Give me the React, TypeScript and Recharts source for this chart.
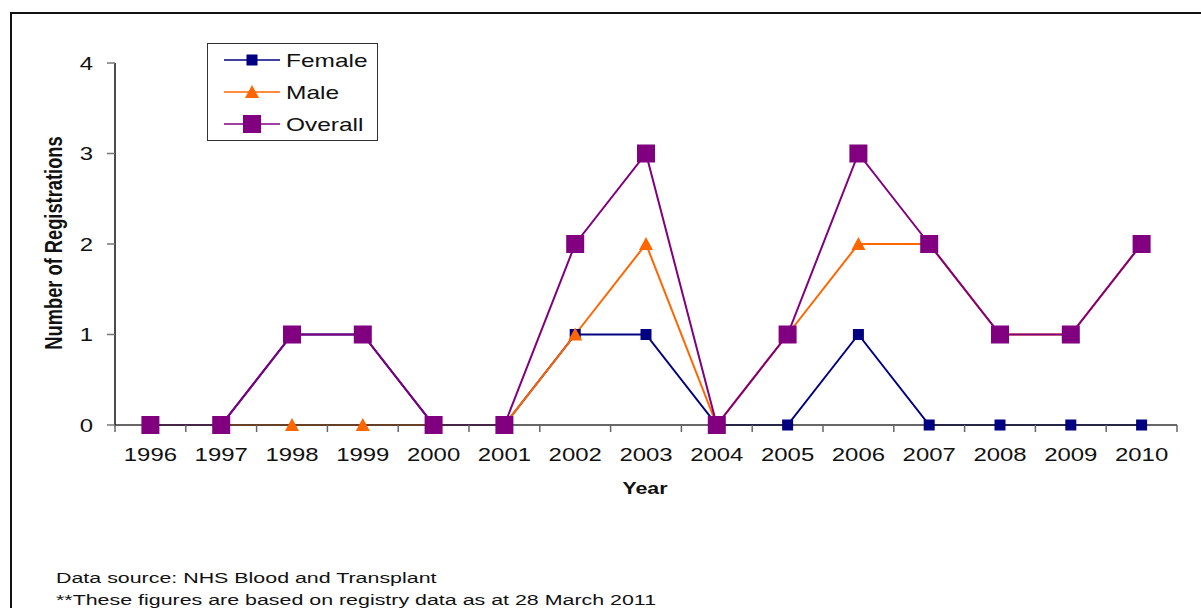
import React from "react";
import { LineChart, Line, XAxis, YAxis, Legend } from "recharts";

const years = [1996, 1997, 1998, 1999, 2000, 2001, 2002, 2003, 2004, 2005, 2006, 2007, 2008, 2009, 2010];
const female = [0, 0, 1, 1, 0, 0, 1, 1, 0, 0, 1, 0, 0, 0, 0];
const male = [0, 0, 0, 0, 0, 0, 1, 2, 0, 1, 2, 2, 1, 1, 2];
const overall = [0, 0, 1, 1, 0, 0, 2, 3, 0, 1, 3, 2, 1, 1, 2];
const yTicks = [0, 1, 2, 3, 4];

const data = years.map((y, i) => ({ year: y, Female: female[i], Male: male[i], Overall: overall[i] }));
const xTicks: number[] = [];
for (let i = 0; i <= years.length; i++) {
  xTicks.push(years[0] - 0.5 + i);
  if (i < years.length) xTicks.push(years[i]);
}

const FONT = '"Liberation Sans", Arial, sans-serif';
const SX = 1.33;
const C_F = "#000080";
const C_M = "#FF6600";
const C_O = "#800080";

const Square = ({ cx, cy, size, color }: any) => (
  <rect x={cx - size / 2} y={cy - size / 2} width={size} height={size} fill={color} />
);
const Tri = ({ cx, cy, w, h, color }: any) => (
  <polygon points={`${cx},${cy - h / 2 - 1} ${cx + w / 2},${cy + h / 2} ${cx - w / 2},${cy + h / 2}`} fill={color} />
);

const markerFor = (key: string, cx: number, cy: number) => {
  if (key === "Female") return <Square cx={cx} cy={cy} size={11} color={C_F} />;
  if (key === "Male") return <Tri cx={cx} cy={cy} w={14} h={12} color={C_M} />;
  return <Square cx={cx} cy={cy} size={18} color={C_O} />;
};

const XTick = (props: any) => {
  const { x, y, payload } = props;
  const v = payload.value;
  if (Math.abs(v - Math.round(v)) > 0.01) {
    return <line x1={x} y1={y} x2={x} y2={y + 7} stroke="#666" strokeWidth={1.5} />;
  }
  return (
    <text transform={`translate(${x},${y + 36}) scale(${SX},1)`} textAnchor="middle" fontFamily={FONT} fontSize={18} fill="#111">
      {v}
    </text>
  );
};

const YTick = (props: any) => {
  const { x, y, payload } = props;
  return (
    <text transform={`translate(${x},${y + 6.5}) scale(${SX},1)`} textAnchor="end" fontFamily={FONT} fontSize={18} fill="#111">
      {payload.value}
    </text>
  );
};

const LegendContent = (props: any) => {
  const payload = props.payload || [];
  return (
    <svg width={169} height={96} style={{ display: "block" }}>
      {payload.map((p: any, i: number) => {
        const cy = 16 + i * 32;
        return (
          <g key={p.value}>
            <line x1={16} y1={cy} x2={72} y2={cy} stroke={p.color} strokeWidth={1.5} />
            {markerFor(p.dataKey, 44, cy)}
            <text transform={`translate(78,${cy + 6.5}) scale(1.36,1)`} fontFamily={FONT} fontSize={18} fill="#111">
              {p.value}
            </text>
          </g>
        );
      })}
    </svg>
  );
};

const dotFn = (key: string) => (props: any) => (
  <g key={`${key}-${props.index}`}>{markerFor(key, props.cx, props.cy)}</g>
);

export default function App() {
  return (
    <div style={{ position: "absolute", left: 0, top: 0, width: 1201, height: 608, background: "#fff", overflow: "hidden", fontFamily: FONT }}>
      <div style={{ position: "absolute", left: 10, top: 12, width: 1191, height: 596, borderLeft: "2px solid #111", borderTop: "2px solid #111", boxSizing: "border-box" }} />
      <LineChart width={1201} height={608} data={data} margin={{ top: 63, right: 24, bottom: 153, left: 55 }}>
        <XAxis
          dataKey="year"
          type="number"
          domain={[1995.5, 2010.5]}
          ticks={xTicks}
          interval={0}
          tickLine={false}
          tickSize={0}
          tickMargin={0}
          tick={<XTick />}
          axisLine={{ stroke: "#333", strokeWidth: 1.5 }}
          height={30}
        />
        <YAxis
          type="number"
          domain={[0, 4]}
          ticks={yTicks}
          interval={0}
          width={60}
          tickSize={8}
          tickMargin={14}
          tick={<YTick />}
          tickLine={{ stroke: "#777", strokeWidth: 1.5 }}
          axisLine={{ stroke: "#111", strokeWidth: 1.5 }}
        />
        <Legend
          layout="horizontal"
          verticalAlign="middle"
          align="center"
          content={<LegendContent />}
          wrapperStyle={{ left: 207, top: 43, width: 171, height: 98, border: "1px solid #333", boxSizing: "border-box", background: "#fff" }}
        />
        <Line dataKey="Female" name="Female" stroke={C_F} strokeWidth={2} dot={dotFn("Female")} activeDot={false} isAnimationActive={false} />
        <Line dataKey="Male" name="Male" stroke={C_M} strokeWidth={2} dot={dotFn("Male")} activeDot={false} isAnimationActive={false} />
        <Line dataKey="Overall" name="Overall" stroke={C_O} strokeWidth={2} dot={dotFn("Overall")} activeDot={false} isAnimationActive={false} />
      </LineChart>
      <div style={{ position: "absolute", left: 645, top: 489, width: 0, height: 0 }}>
        <span style={{ position: "absolute", whiteSpace: "nowrap", fontWeight: "bold", fontSize: 16, color: "#111", lineHeight: "18px", transform: `translate(-50%,-50%) scaleX(${SX})` }}>
          Year
        </span>
      </div>
      <div style={{ position: "absolute", left: 54, top: 243, width: 0, height: 0 }}>
        <span style={{ position: "absolute", whiteSpace: "nowrap", fontWeight: "bold", fontSize: 18.3, color: "#111", lineHeight: "20px", transform: `translate(-50%,-50%) rotate(-90deg) scaleY(${SX})` }}>
          Number of Registrations
        </span>
      </div>
      <div style={{ position: "absolute", left: 56, top: 567, whiteSpace: "nowrap", fontSize: 15.5, color: "#111", lineHeight: "22px", transformOrigin: "0 0", transform: `scaleX(1.38)` }}>
        <div>Data source: NHS Blood and Transplant</div>
        <div>**These figures are based on registry data as at 28 March 2011</div>
      </div>
    </div>
  );
}
